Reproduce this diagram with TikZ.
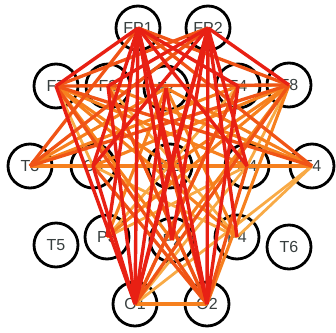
\documentclass[tikz,border=0pt]{standalone}
\usepackage{fontspec}
\setmainfont{Liberation Sans}
\usepackage{tikz}

\definecolor{lnred}{RGB}{232,32,20}
\definecolor{lnorred}{RGB}{240,84,22}
\definecolor{lnor}{RGB}{246,128,30}
\definecolor{lnlight}{RGB}{248,170,70}
\definecolor{lbl}{RGB}{55,62,62}

\begin{document}
\begin{tikzpicture}[x=1pt, y=-1pt, font=\fontsize{16}{16}\selectfont,
  elec/.style={draw, circle, line width=2.8pt, minimum size=44pt, inner sep=0pt, fill=white, text=lbl},
  wred/.style={draw=lnred, line width=3.4pt},
  worred/.style={draw=lnorred, line width=3.3pt},
  wor/.style={draw=lnor, line width=3.1pt},
  wlight/.style={draw=lnlight, line width=2.8pt}]

\useasboundingbox (0,0) rectangle (336,332);

% ---- electrodes -----------------------------------------------------------------
\node[elec] (FP1) at (138,28)  {FP1};
\node[elec] (FP2) at (208,28)  {FP2};
\node[elec] (F7)  at (56,86)   {F7};
\node[elec] (F3)  at (108,86)  {F3};
\node[elec] (Fz)  at (166,88)  {Fz};
\node[elec] (F4)  at (238,86)  {F4};
\node[elec] (F8)  at (289,85)  {F8};
\node[elec] (T3)  at (30,166)  {T3};
\node[elec] (C3)  at (93,166)  {C3};
\node[elec] (Cz)  at (170,166) {Cz};
\node[elec] (C4)  at (247,166) {C4};
\node[elec] (T4)  at (312,166) {T4};
\node[elec] (T5)  at (56,245)  {T5};
\node[elec] (P3)  at (107,237) {P3};
\node[elec] (Pz)  at (172,240) {Pz};
\node[elec] (P4)  at (237,237) {P4};
\node[elec] (T6)  at (289,247) {T6};
\node[elec] (O1)  at (135,304) {O1};
\node[elec] (O2)  at (207,304) {O2};

% ---- connections, weakest first -------------------------------------------------
\foreach \a/\b in {F7/C3, F8/C4, T4/P4, T3/C4, F7/F3, F8/F4, T4/O1,
                   F3/F4, C3/C4, O1/C4, F3/P4, F4/P3, C3/P4, C4/P3}
  \draw[wlight] (\a.center) -- (\b.center);

\foreach \a/\b in {T3/T4, F7/Cz, F7/C4, F7/Pz, F8/Cz, F8/C3, F8/Pz, T3/F4,
                   T3/Fz, T4/F3, T4/Fz, O1/O2, F7/P4, F8/P3,
                   F3/O2, F4/O1, Fz/P3, Fz/P4, F8/O2}
  \draw[wor] (\a.center) -- (\b.center);

\foreach \a/\b in {F7/F8, F7/T4, F7/O2, F8/O1, F8/T3, FP1/F8, FP2/F7, FP1/T4,
                   FP2/T3, O2/F3, O1/F4, O2/C4, O2/Cz, O2/C3, FP1/T3}
  \draw[worred] (\a.center) -- (\b.center);

\foreach \a/\b in {FP1/O1, FP1/O2, FP2/O1, FP2/O2, FP1/Pz, FP2/Pz, FP1/Cz,
                   FP2/Cz, FP1/C3, FP2/C4, FP1/P3, FP2/P4, O1/F3, O1/Fz,
                   O1/C3, O1/Cz, O1/F7, O2/Fz, O2/F4, FP1/F7,
                   FP2/F8, FP1/F4, FP2/F3, FP2/C3, FP1/C4}
  \draw[wred] (\a.center) -- (\b.center);

\end{tikzpicture}
\end{document}
